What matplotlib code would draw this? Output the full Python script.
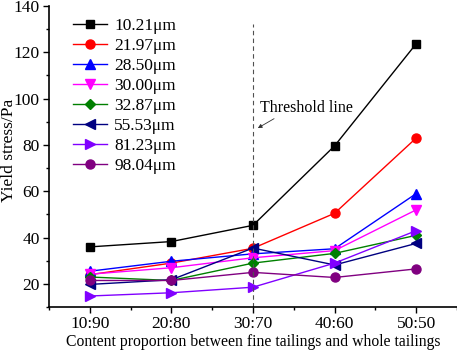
import matplotlib.pyplot as plt
import numpy as np

plt.rcParams["font.family"] = ["Liberation Serif", "DejaVu Serif"]
plt.rcParams["mathtext.fontset"] = "stix"

# Data
ratios = ["10:90", "20:80", "30:70", "40:60", "50:50"]
labels = ["10.21μm", "21.97μm", "28.50μm", "30.00μm",
          "32.87μm", "55.53μm", "81.23μm", "98.04μm"]
d_1021 = [36.0, 38.3, 45.3, 79.6, 123.7]
d_2197 = [24.0, 29.0, 35.4, 50.5, 83.0]
d_2850 = [25.5, 29.8, 33.0, 35.2, 59.0]
d_3000 = [24.2, 27.0, 31.3, 34.4, 52.0]
d_3287 = [23.0, 21.5, 29.0, 33.2, 41.0]
d_5553 = [19.8, 21.8, 35.5, 28.2, 37.5]
d_8123 = [14.8, 16.2, 18.6, 29.0, 43.0]
d_9804 = [21.5, 21.5, 25.0, 22.8, 26.5]

series = [d_1021, d_2197, d_2850, d_3000, d_3287, d_5553, d_8123, d_9804]
colors = ["#000000", "#ff0000", "#0000ff", "#ff00ff",
          "#008000", "#000080", "#8000ff", "#800080"]
markers = ["s", "o", "^", "v", "D", "<", ">", "o"]
msizes = [6, 6.5, 6.5, 6.5, 5, 6.5, 6.5, 6.5]

x = np.arange(1, len(ratios) + 1)

fig = plt.figure(figsize=(4.57, 3.51), dpi=100)
ax = fig.add_axes([0.107, 0.125, 0.893, 0.858])

for y, c, m, ms, lab in zip(series, colors, markers, msizes, labels):
    ax.plot(x, y, color=c, marker=m, markersize=ms, linewidth=1.0, label=lab)

# threshold line
ax.plot([3, 3], [10, 132], color="#505050", linestyle=(0, (4, 3)), linewidth=0.8)
ax.annotate("Threshold line", xy=(3.06, 87.3), xytext=(3.09, 96),
            fontsize=11.5, ha="left", va="center",
            arrowprops=dict(arrowstyle="-|>", color="#303030", lw=0.6,
                            mutation_scale=6, shrinkA=0, shrinkB=0,
                            relpos=(0.2, 0.0)),
            )

ax.set_xlim(0.5, 5.5)
ax.set_ylim(10, 140)
ax.set_xticks(x)
ax.set_xticklabels(ratios)
ax.set_xticks(np.arange(0.5, 5.6, 1.0), minor=True)
ax.set_yticks(np.arange(20, 141, 20))
ax.set_yticks(np.arange(10, 140, 20), minor=True)
ax.tick_params(axis="both", which="major", labelsize=12.5, length=4, width=1, pad=2.5)
ax.tick_params(axis="both", which="minor", length=2.5, width=1)
ax.spines["top"].set_visible(False)
ax.spines["right"].set_visible(False)
ax.spines["left"].set_linewidth(1.2)
ax.spines["bottom"].set_linewidth(1.2)

ax.set_xlabel("Content proportion between fine tailings and whole tailings",
              fontsize=11.3, labelpad=1)
ax.set_ylabel("Yield stress/Pa", fontsize=12.5)
ax.yaxis.set_label_coords(-0.079, 0.52)

ax.legend(loc="upper left", bbox_to_anchor=(0.02, 1.012), frameon=False,
          fontsize=12.5, handlelength=2.0, labelspacing=0.22, handletextpad=0.4)

fig.savefig("out.png", dpi=100)
